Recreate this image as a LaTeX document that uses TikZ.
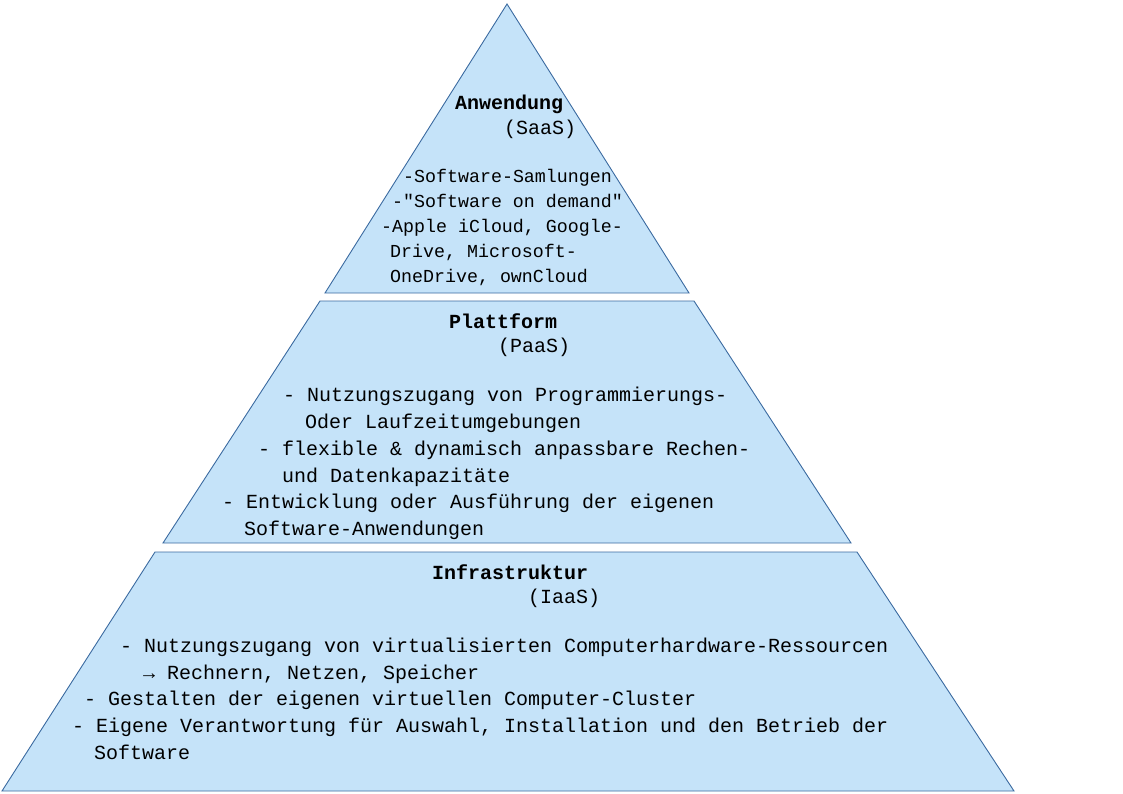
\documentclass[tikz,border=0pt]{standalone}
\usepackage{fontspec}
\newfontfamily\pyrmono{Liberation Mono}
\definecolor{layerfill}{HTML}{C5E3F9}
\definecolor{layerline}{HTML}{3B6AA0}
\tikzset{
  layer/.style={draw=layerline, fill=layerfill, line width=0.9pt},
  heading/.style={anchor=base west, inner sep=0pt, font=\pyrmono\bfseries\fontsize{20}{24}\selectfont},
  item/.style={anchor=base west, inner sep=0pt, font=\pyrmono\fontsize{20}{24}\selectfont},
  smallitem/.style={anchor=base west, inner sep=0pt, font=\pyrmono\fontsize{18.3}{22}\selectfont}
}
\begin{document}
\begin{tikzpicture}[x=1pt,y=-1pt]
\useasboundingbox (0,0) rectangle (1123,794);

% Anwendung
\draw[layer] (507,4) -- (689,293) -- (325,293) -- cycle;

\node[heading] (saas-title) at (455,110) {Anwendung};
\node[item] (saas-abbr) at (504,135) {(SaaS)};

\foreach \x/\y/\t [count=\n] in {
403/183/{-Software-Samlungen},
392/208/{-"Software on demand"},
381/233/{-Apple iCloud, Google-},
390/257/{Drive, Microsoft-},
390/282/{OneDrive, ownCloud}
}
{
\node[smallitem] (saas-\n) at (\x,\y) {\t};
}

% Plattform
\draw[layer] (320,301) -- (694,301) -- (851,543) -- (163,543) -- cycle;

\node[heading] (paas-title) at (449,328) {Plattform};
\node[item] (paas-abbr) at (498,352) {(PaaS)};

\foreach \x/\y/\t [count=\n] in {
283/401/{- Nutzungszugang von Programmierungs-},
305/428/{Oder Laufzeitumgebungen},
258/455/{- flexible \& dynamisch anpassbare Rechen-},
282/482/{und Datenkapazitäte},
222/508/{- Entwicklung oder Ausführung der eigenen},
244/535/{Software-Anwendungen}
}
{
\node[item] (paas-\n) at (\x,\y) {\t};
}

% Infrastruktur
\draw[layer] (155,552) -- (857,552) -- (1014,791) -- (2,791) -- cycle;

\node[heading] (iaas-title) at (432,579) {Infrastruktur};
\node[item] (iaas-abbr) at (528,603) {(IaaS)};

\foreach \x/\y/\t [count=\n] in {
120/652/{- Nutzungszugang von virtualisierten Computerhardware-Ressourcen},
143/679/{→ Rechnern, Netzen, Speicher},
84/705/{- Gestalten der eigenen virtuellen Computer-Cluster},
72/732/{- Eigene Verantwortung für Auswahl, Installation und den Betrieb der},
94/759/{Software}
}
{
\node[item] (iaas-\n) at (\x,\y) {\t};
}

\end{tikzpicture}
\end{document}
